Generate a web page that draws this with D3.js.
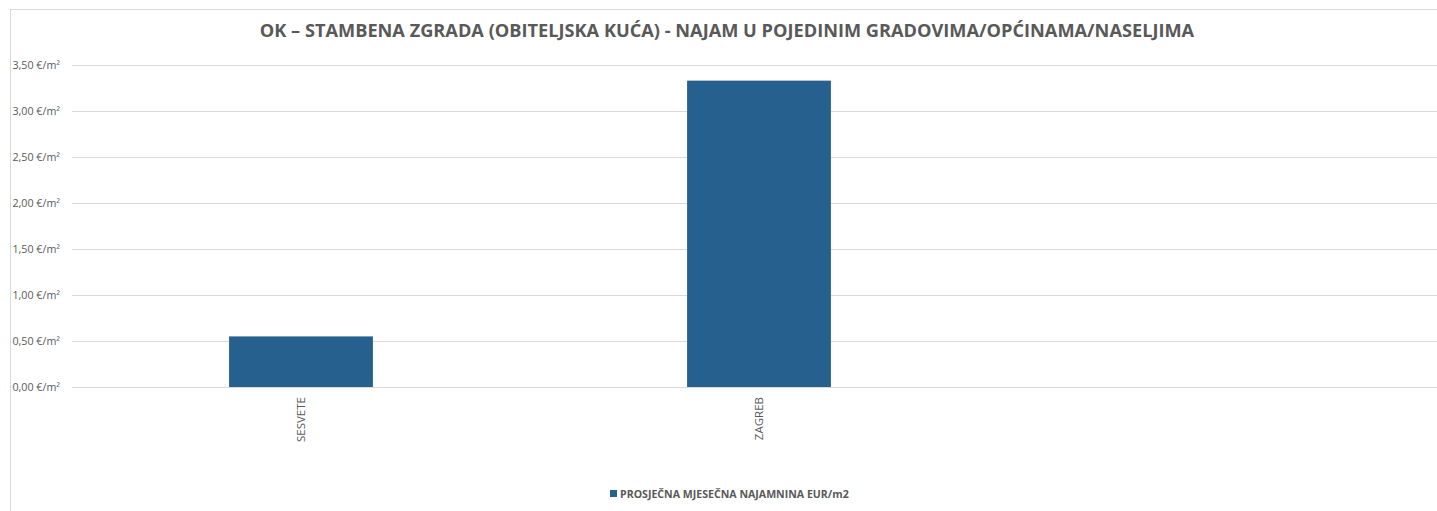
<!DOCTYPE html>
<html>
<head>
<meta charset="utf-8">
<script src="https://cdn.jsdelivr.net/npm/d3@7"></script>
<style>
  html, body { margin: 0; padding: 0; background: #fff; overflow: hidden; }
  #chart { width: 1437px; height: 511px; }
</style>
</head>
<body>
<div id="chart"></div>
<script>
const titleText = "OK \u2013 STAMBENA ZGRADA (OBITELJSKA KU\u0106A) - NAJAM U POJEDINIM GRADOVIMA/OP\u0106INAMA/NASELJIMA";
const seriesName = "PROSJE\u010CNA MJESE\u010CNA NAJAMNINA EUR/m2";
const categories = ["SESVETE", "ZAGREB", ""];
const rentValues = [0.55, 3.33, null];
const yTicks = [0, 0.5, 1, 1.5, 2, 2.5, 3, 3.5];

const w = 1437, h = 511;
const font = "'Open Sans', sans-serif";
const textColor = "#595959";

const svg = d3.select("#chart").append("svg").attr("width", w).attr("height", h);

// chart frame (partly cut off on the right)
svg.append("rect")
    .attr("x", 10.5).attr("y", 9.5)
    .attr("width", 1500).attr("height", 600)
    .attr("fill", "#fff").attr("stroke", "#d9d9d9");

const plotLeft = 72, plotTop = 65, plotBottom = 387;
const step = 458;

const xScale = d3.scaleBand()
    .domain(categories)
    .range([plotLeft, plotLeft + step * categories.length])
    .paddingInner(0.686).paddingOuter(0.343);
const yScale = d3.scaleLinear().domain([0, 3.5]).range([plotBottom, plotTop]);

// gridlines + y labels
const yAxis = d3.axisLeft(yScale)
    .tickValues(yTicks)
    .tickSize(-(step * categories.length))
    .tickPadding(12)
    .tickFormat(d => d3.format(".2f")(d).replace(".", ",") + " \u20AC/m\u00B2");

const gy = svg.append("g").attr("transform", "translate(" + plotLeft + ",0)").call(yAxis);
gy.select(".domain").remove();
gy.selectAll(".tick line").attr("stroke", "#d9d9d9").attr("stroke-width", 1);
gy.selectAll(".tick text")
    .attr("fill", textColor).style("font-family", font).style("font-size", "10.7px");

// bars
svg.selectAll("rect.bar")
    .data(categories.map((c, i) => ({ c: c, v: rentValues[i] })).filter(d => d.v != null))
    .enter()
    .append("rect")
    .attr("class", "bar")
    .attr("x", d => xScale(d.c))
    .attr("y", d => yScale(d.v))
    .attr("width", xScale.bandwidth())
    .attr("height", d => plotBottom - yScale(d.v))
    .attr("fill", "#26608f");

// category labels, rotated
svg.selectAll("text.cat")
    .data(categories)
    .enter()
    .append("text")
    .attr("class", "cat")
    .attr("transform", d => "translate(" + (xScale(d) + xScale.bandwidth() / 2 + 4) + "," + (plotBottom + 10) + ") rotate(-90)")
    .attr("text-anchor", "end")
    .attr("fill", textColor)
    .style("font-family", font)
    .style("font-size", "11.5px")
    .text(d => d);

// title
svg.append("text")
    .attr("x", 727).attr("y", 37)
    .attr("text-anchor", "middle")
    .attr("fill", textColor)
    .style("font-family", font)
    .style("font-size", "18.2px")
    .style("font-weight", "bold")
    .text(titleText);

// legend
const lg = svg.append("g").attr("transform", "translate(610,490)");
lg.append("rect").attr("x", 0).attr("y", 0).attr("width", 7).attr("height", 7).attr("fill", "#26608f");
lg.append("text")
    .attr("x", 10).attr("y", 7.5)
    .attr("fill", textColor)
    .style("font-family", font)
    .style("font-size", "10.6px")
    .style("font-weight", "bold")
    .text(seriesName);
</script>
</body>
</html>
